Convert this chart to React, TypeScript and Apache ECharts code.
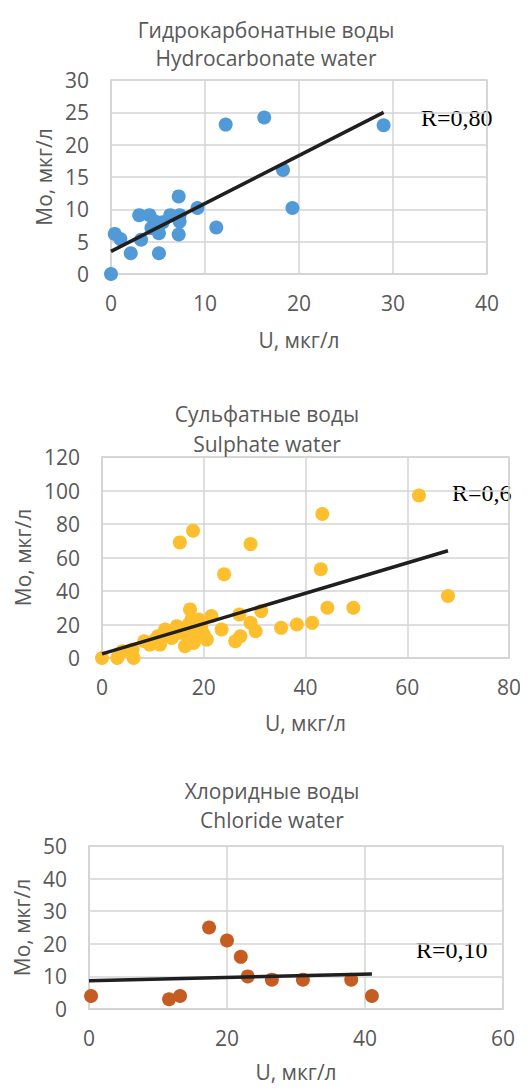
import React, { useEffect, useRef } from "react";
import * as echarts from "echarts";

// Hydrocarbonate water
const hydroU = [0, 0.4, 1, 2.1, 3, 3.2, 4.1, 4.3, 4.7, 5.1, 5.1, 5, 5.5, 6.3, 7.2, 7.3, 7.3, 7.2, 9.2, 11.2, 12.2, 16.3, 18.3, 19.3, 29];
const hydroMo = [0, 6.2, 5.4, 3.2, 9.1, 5.3, 9.1, 7.1, 8.1, 6.3, 3.2, 7, 8, 9.1, 12, 9.1, 8.1, 6.1, 10.2, 7.2, 23.1, 24.2, 16.1, 10.2, 23];
const hydroTrendU = [0, 29];
const hydroTrendMo = [3.5, 25];

// Sulphate water
const sulU = [0, 3, 6.2, 4, 6, 8.3, 9.4, 11.4, 12.4, 11, 14.7, 13.7, 16.3, 17.3, 17.6, 18.3, 18.3, 19, 20.6, 21.5, 23.5, 24, 15.3, 17.9, 29.2, 27, 29.2, 30.2, 31.3, 26.2, 27.2, 35.2, 38.3, 41.3, 44.3, 49.4, 43, 43.3, 62.3, 68, 10.5, 13, 15, 16.5, 17, 19.5, 20, 18];
const sulMo = [0, 0, 0, 4, 5, 10, 8, 8, 17, 13, 19, 12, 7, 29, 23, 17, 11, 23, 11, 25, 17, 50, 69, 76, 68, 26, 21, 16, 28, 10, 13, 18, 20, 21, 30, 30, 53, 86, 97, 37, 11, 14, 15, 14, 20, 19, 14, 9];
const sulTrendU = [0, 68];
const sulTrendMo = [2.5, 64];

// Chloride water
const chlU = [0.3, 11.6, 13.2, 17.4, 20, 22, 23, 26.5, 31, 38, 41];
const chlMo = [4, 3, 4, 25, 21, 16, 10, 9, 9, 9, 4];
const chlTrendU = [0, 41];
const chlTrendMo = [8.7, 10.7];

const titles = ["Гидрокарбонатные воды\nHydrocarbonate water", "Сульфатные воды\nSulphate water", "Хлоридные воды\nChloride water"];
const rLabels = ["R=0,80", "R=0,6", "R=0,10"];
const xName = "U, мкг/л";
const yName = "Мо, мкг/л";

const zip = (a: number[], b: number[]) => a.map((v, i) => [v, b[i]]);

const FONT = "Open Sans";
const GRAY = "#595959";
const GRID_C = "#D4D4D4";

export default function App() {
  const ref = useRef<HTMLDivElement>(null);
  useEffect(() => {
    if (!ref.current) return;
    const chart = echarts.init(ref.current, undefined, { renderer: "svg" });
    const grids = [
      { left: 111, right: 41, top: 80, height: 194 },
      { left: 102, right: 19, top: 457, height: 201 },
      { left: 89, right: 25, top: 846, height: 163 },
    ];
    const xCfg = [
      { max: 40, interval: 10, nameGap: 55 },
      { max: 80, interval: 20, nameGap: 54 },
      { max: 60, interval: 20, nameGap: 52 },
    ];
    const yCfg = [
      { max: 30, interval: 5, nameGap: 55 },
      { max: 120, interval: 20, nameGap: 67 },
      { max: 50, interval: 10, nameGap: 56 },
    ];
    const titlePos = [
      { left: 261, top: 11, lh: 28 },
      { left: 262, top: 394, lh: 30 },
      { left: 267, top: 771, lh: 29 },
    ];
    const rPos = [
      { x: 421, y: 118 },
      { x: 452, y: 493 },
      { x: 416, y: 950 },
    ];
    const colors = ["#5299D7", "#FDBF2D", "#C55D22"];
    const scat = [zip(hydroU, hydroMo), zip(sulU, sulMo), zip(chlU, chlMo)];
    const trends = [zip(hydroTrendU, hydroTrendMo), zip(sulTrendU, sulTrendMo), zip(chlTrendU, chlTrendMo)];

    const axisLabel = { color: GRAY, fontFamily: FONT, fontSize: 21 };
    const nameStyle = { color: GRAY, fontFamily: FONT, fontSize: 21 };

    const option: any = {
      animation: false,
      title: titles.map((t, i) => ({
        text: t,
        left: titlePos[i].left,
        top: titlePos[i].top,
        textAlign: "center",
        textStyle: { color: GRAY, fontFamily: FONT, fontSize: 21, fontWeight: "normal", lineHeight: titlePos[i].lh },
      })),
      grid: grids.map((g) => ({ ...g, show: true, borderColor: GRID_C, borderWidth: 1.5, containLabel: false })),
      xAxis: xCfg.map((c, i) => ({
        type: "value",
        gridIndex: i,
        min: 0,
        max: c.max,
        interval: c.interval,
        name: xName,
        nameLocation: "middle",
        nameGap: c.nameGap,
        nameTextStyle: nameStyle,
        axisLine: { show: true, lineStyle: { color: GRID_C, width: 1.5 } },
        axisTick: { show: false },
        axisLabel: { ...axisLabel, margin: 18 },
        splitLine: { show: true, lineStyle: { color: GRID_C, width: 1.5 } },
      })),
      yAxis: yCfg.map((c, i) => ({
        type: "value",
        gridIndex: i,
        min: 0,
        max: c.max,
        interval: c.interval,
        name: yName,
        nameLocation: "middle",
        nameGap: c.nameGap,
        nameTextStyle: nameStyle,
        axisLine: { show: true, lineStyle: { color: GRID_C, width: 1.5 } },
        axisTick: { show: false },
        axisLabel: { ...axisLabel, margin: 22 },
        splitLine: { show: true, lineStyle: { color: GRID_C, width: 1.5 } },
      })),
      series: [
        ...scat.map((d, i) => ({
          type: "scatter",
          xAxisIndex: i,
          yAxisIndex: i,
          data: d,
          symbolSize: 14,
          itemStyle: { color: colors[i], opacity: 1 },
          z: 2,
        })),
        ...trends.map((d, i) => ({
          type: "line",
          xAxisIndex: i,
          yAxisIndex: i,
          data: d,
          symbol: "none",
          lineStyle: { color: "#1F1F1F", width: 3.5 },
          z: 3,
        })),
      ],
      graphic: rLabels.map((t, i) => ({
        type: "text",
        x: rPos[i].x,
        y: rPos[i].y,
        style: { text: t, fill: "#000", font: '24px "Liberation Serif"', textVerticalAlign: "middle" },
      })),
    };
    chart.setOption(option);
    return () => chart.dispose();
  }, []);
  return <div ref={ref} style={{ width: 528, height: 1091, margin: -8 }} />;
}
